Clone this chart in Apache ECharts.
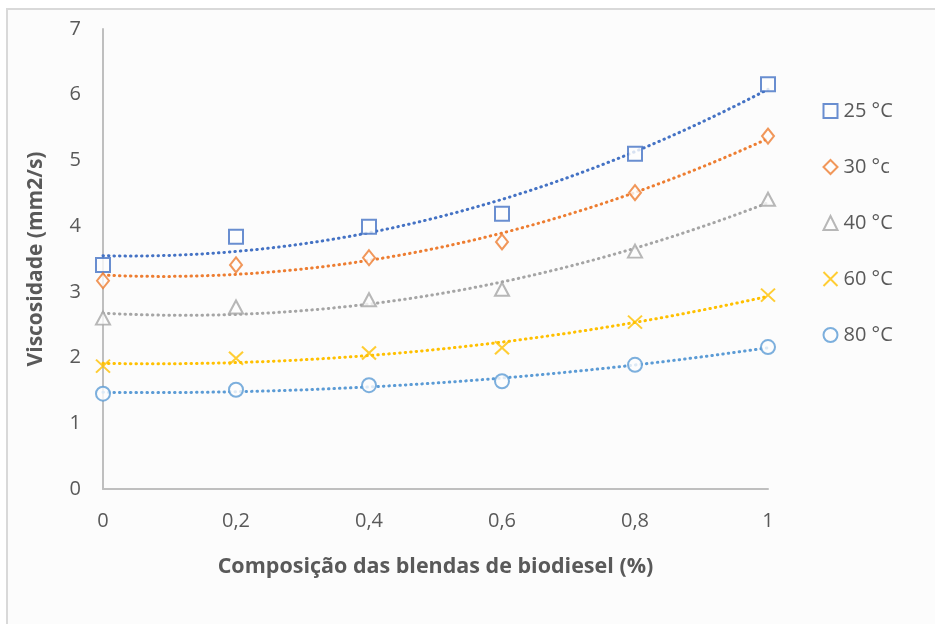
<!DOCTYPE html>
<html>
<head>
<meta charset="utf-8">
<script src="https://cdn.jsdelivr.net/npm/echarts@6/dist/echarts.min.js"></script>
<style>
  html, body { margin: 0; padding: 0; background: #ffffff; }
  #chart { width: 935px; height: 624px; }
</style>
</head>
<body>
<div id="chart"></div>
<script>
// Blend composition (fraction of biodiesel)
const composition = [0, 0.2, 0.4, 0.6, 0.8, 1];

// Kinematic viscosity (mm2/s) at each temperature
const visc25 = [3.41, 3.84, 3.99, 4.19, 5.10, 6.16];
const visc30 = [3.17, 3.41, 3.52, 3.76, 4.51, 5.37];
const visc40 = [2.60, 2.77, 2.88, 3.04, 3.62, 4.41];
const visc60 = [1.87, 1.99, 2.07, 2.15, 2.54, 2.95];
const visc80 = [1.45, 1.51, 1.58, 1.64, 1.89, 2.16];

const seriesNames = ['25 °C', '30 °c', '40 °C', '60 °C', '80 °C'];
const yTicks = [0, 1, 2, 3, 4, 5, 6, 7];
const xTicks = [0, 0.2, 0.4, 0.6, 0.8, 1];

const colors = ['#4472C4', '#ED7D31', '#A5A5A5', '#FFC000', '#5B9BD5'];
const symbols = ['rect', 'diamond', 'triangle', 'path://M0,0L10,10M10,0L0,10', 'circle'];
const symbolSizes = [[14, 14], [12, 15], [14, 13], [14, 13], [14, 14]];

// Second-order least-squares polynomial trendline through a series
function quadFit(xs, ys) {
  let s0 = 0, s1 = 0, s2 = 0, s3 = 0, s4 = 0, t0 = 0, t1 = 0, t2 = 0;
  for (let i = 0; i < xs.length; i++) {
    const x = xs[i], y = ys[i];
    s0 += 1; s1 += x; s2 += x * x; s3 += x * x * x; s4 += x * x * x * x;
    t0 += y; t1 += x * y; t2 += x * x * y;
  }
  const M = [[s0, s1, s2, t0], [s1, s2, s3, t1], [s2, s3, s4, t2]];
  for (let c = 0; c < 3; c++) {
    for (let r = c + 1; r < 3; r++) {
      const f = M[r][c] / M[c][c];
      for (let k = c; k < 4; k++) M[r][k] -= f * M[c][k];
    }
  }
  const b = [0, 0, 0];
  for (let r = 2; r >= 0; r--) {
    let v = M[r][3];
    for (let k = r + 1; k < 3; k++) v -= M[r][k] * b[k];
    b[r] = v / M[r][r];
  }
  const pts = [];
  for (let i = 0; i <= 60; i++) {
    const x = i / 60;
    pts.push([x, b[0] + b[1] * x + b[2] * x * x]);
  }
  return pts;
}

const allSeries = [visc25, visc30, visc40, visc60, visc80];
const series = [];
allSeries.forEach((vals, i) => {
  series.push({
    name: seriesNames[i] + ' trend',
    type: 'line',
    data: quadFit(composition, vals),
    showSymbol: false,
    silent: true,
    smooth: false,
    z: 1,
    lineStyle: { color: colors[i], width: 3, type: [0.5, 5], cap: 'round' }
  });
  series.push({
    name: seriesNames[i],
    type: 'scatter',
    data: composition.map((x, k) => [x, vals[k]]),
    symbol: symbols[i],
    symbolSize: symbolSizes[i],
    z: 3,
    itemStyle: {
      color: i === 3 ? 'none' : '#fcfcfc',
      borderColor: colors[i],
      borderWidth: 2
    }
  });
});

const chart = echarts.init(document.getElementById('chart'), null, { renderer: 'canvas' });
const fontFam = '"Open Sans", "DejaVu Sans", sans-serif';

chart.setOption({
  animation: false,
  backgroundColor: '#ffffff',
  graphic: [{
    type: 'rect',
    z: -10,
    shape: { x: 7, y: 9, width: 960, height: 640 },
    style: { fill: '#fcfcfc', stroke: '#d9d9d9', lineWidth: 2 }
  }],
  grid: { left: 103, right: 167, top: 29, bottom: 135 },
  legend: {
    data: seriesNames,
    orient: 'vertical',
    left: 816,
    top: 96,
    itemGap: 36,
    itemWidth: 14,
    itemHeight: 14,
    textStyle: { color: '#595959', fontSize: 20, fontFamily: fontFam, padding: [0, 0, 0, 1] }
  },
  xAxis: {
    type: 'value',
    min: 0,
    max: 1,
    interval: 0.2,
    name: 'Composição das blendas de biodiesel (%)',
    nameLocation: 'middle',
    nameGap: 67,
    nameTextStyle: { color: '#595959', fontSize: 21.5, fontWeight: 'bold', fontFamily: fontFam },
    axisLine: { lineStyle: { color: '#bfbfbf', width: 2 } },
    axisTick: { show: false },
    splitLine: { show: false },
    axisLabel: {
      color: '#595959', fontSize: 20, fontFamily: fontFam, margin: 22,
      formatter: v => String(Math.round(v * 10) / 10).replace('.', ',')
    }
  },
  yAxis: {
    type: 'value',
    min: 0,
    max: 7,
    interval: 1,
    name: 'Viscosidade (mm2/s)',
    nameLocation: 'middle',
    nameGap: 56,
    nameTextStyle: { color: '#595959', fontSize: 21, fontWeight: 'bold', fontFamily: fontFam },
    axisLine: { show: true, lineStyle: { color: '#bfbfbf', width: 2 } },
    axisTick: { show: false },
    splitLine: { show: false },
    axisLabel: { color: '#595959', fontSize: 20, fontFamily: fontFam, margin: 22 }
  },
  series: series
});
</script>
</body>
</html>
